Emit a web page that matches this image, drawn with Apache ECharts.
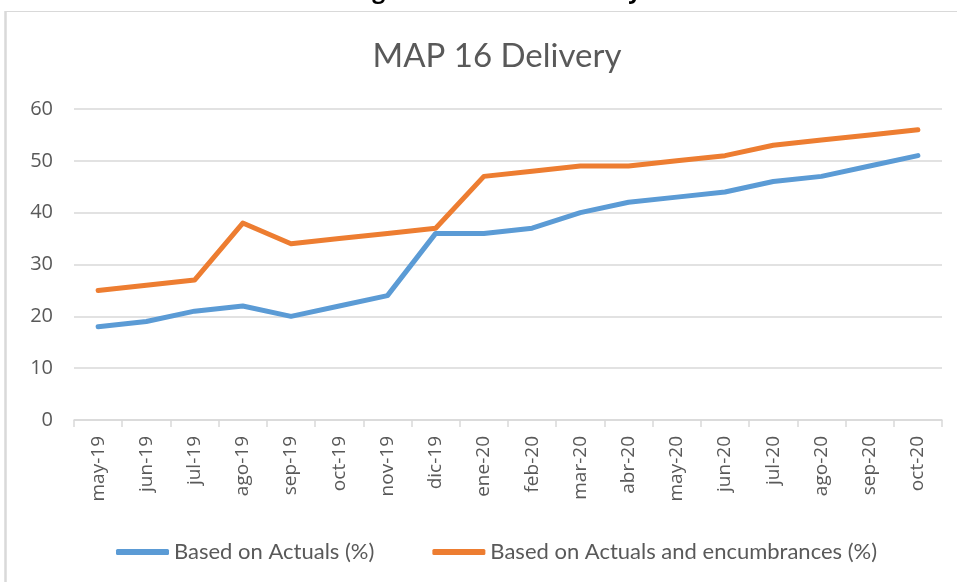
<!DOCTYPE html>
<html>
<head>
<meta charset="utf-8">
<script src="https://cdn.jsdelivr.net/npm/echarts@6/dist/echarts.min.js"></script>
<style>html,body{margin:0;padding:0;background:#fff}#c{width:957px;height:582px}</style>
</head>
<body>
<div id="c"></div>
<script>
const categories = ['may-19','jun-19','jul-19','ago-19','sep-19','oct-19','nov-19','dic-19','ene-20','feb-20','mar-20','abr-20','may-20','jun-20','jul-20','ago-20','sep-20','oct-20'];
const actuals = [18,19,21,22,20,22,24,36,36,37,40,42,43,44,46,47,49,51];
const actualsEnc = [25,26,27,38,34,35,36,37,47,48,49,49,50,51,53,54,55,56];
const yTicks = [0,10,20,30,40,50,60];
const seriesNames = ['Based on Actuals (%)','Based on Actuals and encumbrances (%)'];
const chartTitle = 'MAP 16 Delivery';
const headingText = 'Figure 5: MAP 16 Delivery';

const chart = echarts.init(document.getElementById('c'), null, {renderer:'canvas'});
const gray = '#595959';
chart.setOption({
  animation:false,
  backgroundColor:'#fff',
  title:{
    text: chartTitle, left: 492, top: 35, textAlign:'center',
    textStyle:{fontFamily:'Lato', fontWeight:'normal', fontSize:33, color:gray}
  },
  graphic:[
    {type:'line', shape:{x1:5,y1:11.5,x2:957,y2:11.5}, style:{stroke:'#d9d9d9', lineWidth:1}},
    {type:'line', shape:{x1:5.5,y1:11,x2:5.5,y2:582}, style:{stroke:'#d9d9d9', lineWidth:2.5}},
    {type:'text', style:{text: headingText, x:497, y:-9, textAlign:'center', textVerticalAlign:'middle', font:"bold 23px 'Open Sans'", fill:'#000'}}
  ],
  grid:{left:74, right:15, top:109, bottom:162, containLabel:false},
  legend:{
    left:111, top:536, icon:'roundRect', itemWidth:53, itemHeight:6, itemGap:58, itemSpacing:4,
    textStyle:{fontFamily:'Lato', fontSize:22, color:gray},
    data: seriesNames
  },
  xAxis:{
    type:'category', data:categories, boundaryGap:true,
    axisLine:{lineStyle:{color:'#d9d9d9', width:1.5}},
    axisTick:{show:true, length:7, lineStyle:{color:'#d9d9d9', width:1.5}},
    axisLabel:{rotate:90, fontFamily:'Open Sans', fontSize:19, color:gray, margin:16}
  },
  yAxis:{
    type:'value', min:yTicks[0], max:yTicks[yTicks.length-1], interval:10,
    axisLine:{show:false}, axisTick:{show:false},
    splitLine:{lineStyle:{color:'#d9d9d9', width:1.5}},
    axisLabel:{fontFamily:'Open Sans', fontSize:20, color:gray, margin:21}
  },
  series:[
    {name:seriesNames[0], type:'line', data:actuals, symbol:'none', lineStyle:{color:'#5B9BD5', width:5, cap:'round', join:'round'}, itemStyle:{color:'#5B9BD5'}},
    {name:seriesNames[1], type:'line', data:actualsEnc, symbol:'none', lineStyle:{color:'#ED7D31', width:5, cap:'round', join:'round'}, itemStyle:{color:'#ED7D31'}}
  ]
});
</script>
</body>
</html>
